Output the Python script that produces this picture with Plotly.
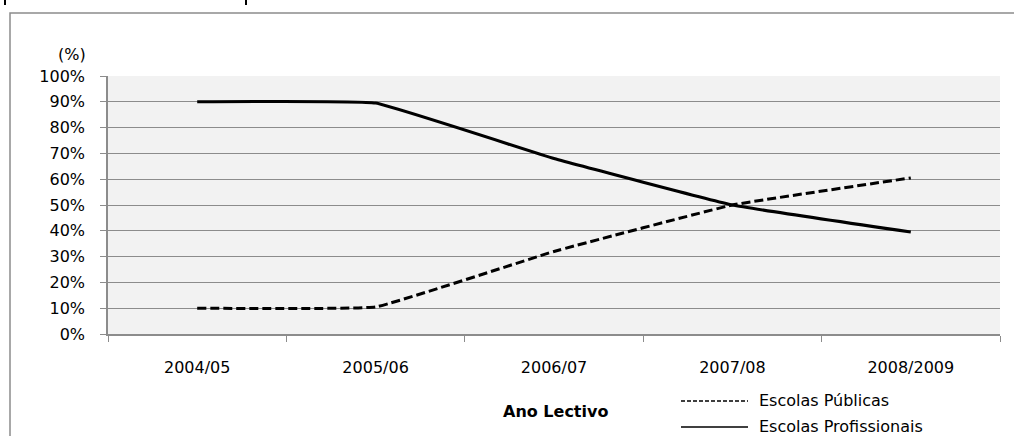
import plotly.graph_objects as go

anos = ["2004/05", "2005/06", "2006/07", "2007/08", "2008/2009"]
escolas_publicas = [10, 10.5, 32, 50, 60.5]
escolas_profissionais = [90, 89.5, 68, 50, 39.5]
nome_publicas = "Escolas Públicas"
nome_profissionais = "Escolas Profissionais"

FONT = "DejaVu Sans"
GRID = "#8c8c8c"

# plot area in pixels
L, R, T, B = 108, 1000, 76, 334
W, H = 1014, 436


def px(x):
    return (x - L) / (R - L)


def py(y):
    return (B - y) / (B - T)


fig = go.Figure()
fig.add_trace(go.Scatter(
    x=anos, y=escolas_publicas, mode="lines", name=nome_publicas,
    line=dict(color="#000000", width=3, dash="9px,4px", shape="spline", smoothing=0.25),
    showlegend=False,
))
fig.add_trace(go.Scatter(
    x=anos, y=escolas_profissionais, mode="lines", name=nome_profissionais,
    line=dict(color="#000000", width=3, shape="spline", smoothing=0.25),
    showlegend=False,
))

shapes = [
    # outer frame
    dict(type="rect", xref="paper", yref="paper",
         x0=px(10), x1=px(1030), y0=py(450), y1=py(13),
         line=dict(color="#8c8c8c", width=1.5), fillcolor="rgba(0,0,0,0)", layer="below"),
    # small fragments at top
    dict(type="line", xref="paper", yref="paper", x0=px(5), x1=px(5), y0=py(0), y1=py(5),
         line=dict(color="#000000", width=2)),
    dict(type="line", xref="paper", yref="paper", x0=px(246), x1=px(246), y0=py(0), y1=py(5),
         line=dict(color="#000000", width=2)),
    # legend samples
    dict(type="line", xref="paper", yref="paper", x0=px(681), x1=px(748), y0=py(401), y1=py(401),
         line=dict(color="#000000", width=1.5, dash="4px,2px")),
    dict(type="line", xref="paper", yref="paper", x0=px(681), x1=px(748), y0=py(427), y1=py(427),
         line=dict(color="#000000", width=1.5)),
]

annotations = [
    dict(text="(%)", xref="paper", yref="paper", x=px(72), y=py(54),
         showarrow=False, font=dict(family=FONT, size=16, color="#000"),
         xanchor="center", yanchor="middle"),
    dict(text="<b>Ano Lectivo</b>", xref="paper", yref="paper", x=px(555), y=py(411),
         showarrow=False, font=dict(family=FONT, size=16, color="#000"),
         xanchor="center", yanchor="middle"),
    dict(text=nome_publicas, xref="paper", yref="paper", x=px(757), y=py(400),
         showarrow=False, font=dict(family=FONT, size=16, color="#000"),
         xanchor="left", yanchor="middle"),
    dict(text=nome_profissionais, xref="paper", yref="paper", x=px(757), y=py(426),
         showarrow=False, font=dict(family=FONT, size=16, color="#000"),
         xanchor="left", yanchor="middle"),
]

fig.update_layout(
    width=W, height=H,
    margin=dict(l=L, r=W - R, t=T, b=H - B, pad=0),
    paper_bgcolor="#ffffff",
    plot_bgcolor="#f2f2f2",
    font=dict(family=FONT, size=16, color="#000"),
    shapes=shapes,
    annotations=annotations,
    xaxis=dict(
        type="category", range=[-0.5, 4.5], tickson="boundaries",
        ticks="outside", ticklen=6, tickcolor=GRID, tickwidth=1.2,
        showline=True, linecolor=GRID, linewidth=1.5,
        showgrid=False, zeroline=False, automargin=False,
        tickfont=dict(family=FONT, size=16, color="#000"),
        ticklabelstandoff=18,
        fixedrange=True,
    ),
    yaxis=dict(
        range=[0, 100], dtick=10, tick0=0, ticksuffix="%",
        ticks="outside", ticklen=6, tickcolor=GRID, tickwidth=1.2,
        showline=True, linecolor=GRID, linewidth=1.5,
        showgrid=True, gridcolor=GRID, gridwidth=1.2, zeroline=False, automargin=False,
        tickfont=dict(family=FONT, size=16, color="#000"),
        ticklabelstandoff=12,
        fixedrange=True,
    ),
)

fig.write_html("out.html", config={"displayModeBar": False},
               post_script="document.body.style.margin='0';document.body.style.overflow='hidden';")
